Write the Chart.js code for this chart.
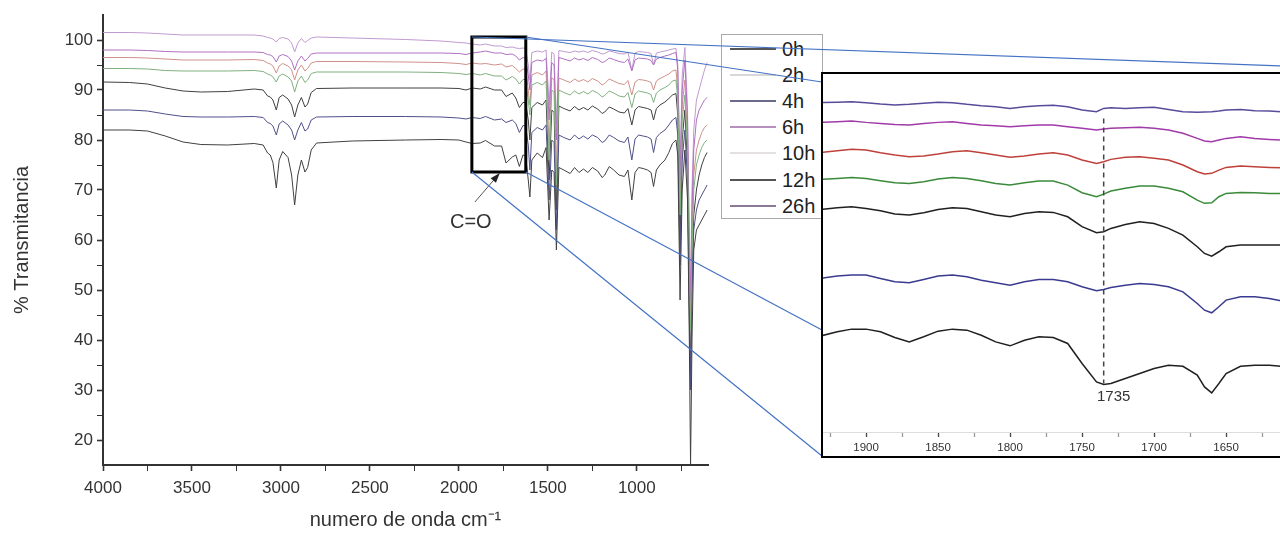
<!DOCTYPE html>
<html>
<head>
<meta charset="utf-8">
<script src="https://cdn.jsdelivr.net/npm/chart.js@4.4.1/dist/chart.umd.min.js"></script>
<style>
  html, body { margin: 0; padding: 0; background: #fff; }
  body { width: 1280px; height: 533px; overflow: hidden; position: relative; font-family: Arial, "Liberation Sans", sans-serif; }
  #main { position: absolute; left: 0; top: 0; }
  #legend { position: absolute; left: 721px; top: 34px; width: 100px; height: 183px; border: 1px solid #aaa; background: #fff; z-index: 1; }
  #legend .row { position: absolute; left: 0; height: 26px; line-height: 26px; font-size: 20px; color: #222; }
  #legend .sw { position: absolute; left: 8px; top: 12px; width: 46px; height: 0; border-top: 2px solid #555; }
  #legend .tx { position: absolute; left: 60px; top: 0; }
  #overlay { position: absolute; left: 0; top: 0; z-index: 2; pointer-events: none; }
  #insetBox { position: absolute; left: 821px; top: 72px; width: 480px; height: 382px; border: 2px solid #000; background: #fff; z-index: 3; }
  #inset { display: block; }
</style>
</head>
<body>
<canvas id="main" width="720" height="533"></canvas>
<div id="legend"></div>
<canvas id="overlay" width="1280" height="533"></canvas>
<div id="insetBox"><canvas id="inset" width="480" height="382"></canvas></div>
<script>
// ---- main spectrum: wavenumber (cm-1) and % transmittance per sample ----
const wavenumber = [4000, 3850, 3750, 3650, 3550, 3450, 3300, 3150, 3100, 3075,
  3060, 3045, 3026, 3010, 2990, 2960, 2940, 2923, 2905, 2885,
  2865, 2850, 2830, 2800, 2600, 2300, 2100, 2000, 1960, 1925,
  1880, 1850, 1800, 1760, 1735, 1700, 1680, 1660, 1640, 1625,
  1610, 1601, 1590, 1560, 1530, 1510, 1493, 1478, 1465, 1452,
  1438, 1410, 1375, 1350, 1325, 1300, 1275, 1250, 1220, 1195,
  1180, 1155, 1130, 1100, 1070, 1050, 1028, 1010, 990, 965,
  940, 920, 906, 890, 870, 842, 820, 800, 780, 770,
  757, 745, 730, 715, 705, 698, 690, 680, 665, 650,
  635, 620, 605];

const t0h = [82, 82, 81.8, 80.8, 79.6, 79.1, 79, 79.3, 79, 77.4,
  77, 75.5, 70.4, 76, 77.7, 76.5, 73, 67, 73, 76,
  73.6, 74.5, 78, 79.4, 79.8, 80, 80.1, 80, 79.6, 79.3,
  79.4, 79.9, 78.8, 78.8, 75.4, 76.6, 77, 74.7, 77, 76.8,
  72, 68.6, 76, 77.4, 76.5, 78.5, 64, 74, 73.5, 58,
  74.5, 74, 73.3, 74.5, 73.5, 74.2, 73.5, 74.5, 73.8, 72.5,
  73, 74.7, 74, 73, 72.7, 74, 68, 73.5, 74.5, 74.3,
  74, 73.5, 70.7, 74, 75, 76, 77.5, 79.3, 80, 77,
  48, 70, 78, 68, 40, 15, 40, 58, 62, 63,
  64, 65, 66];

const t2h = [94.3, 94.3, 94.2, 93.9, 93.8, 93.8, 93.8, 93.9, 93.7, 93.2,
  93, 92.6, 91.6, 92.8, 93.2, 92.6, 91.8, 89.6, 91.8, 92.8,
  91.5, 92, 93.3, 93.6, 93.6, 93.6, 93.5, 93.3, 93.1, 93.3,
  93, 93.3, 92.8, 92.8, 92, 92.7, 92.2, 91.2, 92.1, 92.1,
  88, 85, 91, 91.5, 91, 91.8, 76, 90, 89.5, 71,
  90, 89.5, 89, 89.8, 89.2, 89.7, 89.2, 89.9, 89.4, 88.6,
  88.9, 89.8, 89.4, 88.8, 88.6, 89.5, 86.5, 89.2, 89.8, 89.6,
  89.4, 89.1, 87.5, 89.4, 90, 90.5, 91, 91.8, 92, 88,
  65, 84, 89, 78, 52, 42, 58, 70, 75, 77,
  78.5, 79.5, 80];

const t4h = [86, 86, 85.8, 85.2, 84.7, 84.6, 84.6, 84.7, 84.5, 83.5,
  83.3, 82.8, 81, 83.2, 83.8, 83, 82, 80, 82, 83.5,
  81.8, 82.2, 84, 84.6, 84.7, 84.7, 84.6, 84.4, 84.2, 84.5,
  84.3, 84.7, 84, 84.2, 83.5, 84, 83.3, 81.5, 82.9, 82.8,
  79, 74, 81.5, 82.5, 82, 83, 68, 80, 79.5, 62,
  81, 80.5, 80, 81, 80.2, 80.8, 80.2, 81, 80.5, 79.5,
  79.8, 81, 80.5, 79.8, 79.5, 80.6, 76, 80.2, 81, 80.8,
  80.6, 80.2, 77.5, 80.5, 81.3, 82, 83, 84, 84.5, 81,
  55, 76, 82, 72, 45, 30, 50, 62, 66, 68,
  69, 70, 71];

const t6h = [98, 98, 97.9, 97.7, 97.6, 97.6, 97.6, 97.6, 97.5, 97.1,
  97, 96.7, 95.6, 96.8, 97.1, 96.7, 95.8, 94, 95.8, 96.8,
  95.8, 96.3, 97.2, 97.4, 97.4, 97.4, 97.4, 97.3, 97.1, 97.4,
  97.6, 97.8, 97.4, 97.4, 97.1, 97.2, 96.8, 96, 96.5, 96.3,
  93, 90, 95.5, 96, 95.8, 96.3, 84, 95.5, 95, 80,
  96.5, 96.2, 95.8, 96.4, 96, 96.3, 95.9, 96.5, 96.1, 95.5,
  95.7, 96.4, 96.1, 95.7, 95.5, 96.2, 93.8, 96, 96.4, 96.3,
  96.2, 95.9, 95, 96.2, 96.5, 96.8, 97, 97.3, 97.5, 94,
  72, 90, 96, 84, 58, 48, 66, 78, 84, 86,
  87, 88, 88.5];

const t10h = [96.5, 96.5, 96.4, 96.2, 96, 96, 96, 96.1, 95.9, 95.4,
  95.2, 94.8, 93.4, 94.8, 95.3, 94.8, 94, 92, 94, 95,
  93.8, 94.3, 95.4, 95.7, 95.7, 95.6, 95.5, 95.3, 95.1, 95.4,
  95.2, 95.3, 95, 95.2, 94.6, 94.9, 94.3, 93.6, 94.2, 94.1,
  90, 87, 93, 93.5, 93, 93.8, 79, 92.5, 92, 74,
  92.4, 92, 91.5, 92.2, 91.7, 92.1, 91.6, 92.3, 91.8, 91,
  91.3, 92.2, 91.8, 91.3, 91.1, 91.9, 89, 91.6, 92.1, 92,
  91.8, 91.5, 90, 91.8, 92.3, 92.8, 93.2, 93.8, 94, 90,
  68, 87, 92, 80, 55, 45, 62, 73, 78, 80,
  81.5, 82.5, 83];

const t12h = [91.6, 91.5, 91.2, 90.4, 89.8, 89.6, 89.7, 90.2, 90, 88.8,
  88.6, 88, 86, 88.5, 89, 88.2, 87, 84.6, 87, 88.5,
  86.6, 87.2, 89.5, 90.3, 90.4, 90.4, 90.4, 90.3, 90, 90.4,
  90.2, 90.6, 90, 90, 88.7, 89.4, 88.4, 86.5, 87.5, 87.5,
  84, 80, 86.5, 87.5, 87, 88, 72, 86, 85.5, 66,
  86.8, 86.3, 85.8, 86.7, 86, 86.5, 86, 86.8, 86.2, 85.3,
  85.6, 86.6, 86.2, 85.6, 85.4, 86.3, 83, 86, 86.7, 86.5,
  86.3, 86, 84, 86.3, 87, 87.6, 88.3, 89, 89.3, 85,
  60, 80, 86, 75, 48, 33, 52, 65, 70, 73,
  75, 76.5, 77.5];

const t26h = [101.5, 101.5, 101.4, 101.2, 101, 101, 101, 101, 100.8, 100.5,
  100.4, 100.2, 99.6, 100.3, 100.5, 100.2, 99.4, 97.6, 99.4, 100.3,
  99.5, 99.9, 100.4, 100.6, 100.4, 100.1, 99.8, 99.5, 99.4, 99.2,
  99, 99.2, 98.8, 98.8, 98.5, 98.6, 98.4, 98.3, 98.4, 98.3,
  95, 92, 97.5, 97.8, 97.6, 98, 87, 97.6, 97.2, 83,
  97.9, 97.7, 97.5, 97.8, 97.6, 97.8, 97.5, 97.9, 97.6, 97.2,
  97.3, 97.8, 97.6, 97.3, 97.2, 97.6, 94, 97.4, 97.7, 97.6,
  97.5, 97.3, 95, 97.4, 97.6, 97.8, 98, 98.2, 98.3, 95,
  75, 93, 98.5, 86, 60, 50, 70, 82, 88, 90,
  92, 94, 95.5];

const sampleLabels = ['0h', '2h', '4h', '6h', '10h', '12h', '26h'];
const xTicks = [4000, 3750, 3500, 3250, 3000, 2750, 2500, 2250, 2000, 1750, 1500, 1250, 1000, 750];
const yTicks = [20, 25, 30, 35, 40, 45, 50, 55, 60, 65, 70, 75, 80, 85, 90, 95, 100];

// ---- inset: C=O region, 1930-1610 cm-1 ----
const insetWavenumber = [1932, 1920, 1910, 1900, 1890, 1880, 1870, 1860, 1850, 1840,
  1830, 1820, 1810, 1800, 1790, 1780, 1770, 1760, 1750, 1740,
  1735, 1730, 1720, 1710, 1700, 1690, 1680, 1670, 1665, 1660,
  1655, 1650, 1640, 1630, 1620, 1612];

const inset0h = [79.70, 80.08, 80.32, 80.32, 80.08, 79.58, 79.19, 79.64, 80.14, 80.32,
  80.23, 79.78, 79.19, 78.84, 79.34, 79.64, 79.58, 79.05, 77.27, 75.64,
  75.41, 75.50, 75.94, 76.38, 76.83, 77.12, 77.03, 76.24, 75.20, 74.67,
  75.50, 76.38, 77.03, 77.12, 77.12, 77.03];
const inset2h = [93.59, 93.68, 93.77, 93.68, 93.48, 93.30, 93.24, 93.39, 93.62, 93.77,
  93.68, 93.48, 93.24, 93.09, 93.30, 93.45, 93.45, 93.09, 92.41, 92.06,
  92.29, 92.56, 92.80, 93.00, 93.00, 92.80, 92.50, 91.76, 91.47, 91.52,
  92.06, 92.35, 92.44, 92.41, 92.35, 92.35];
const inset4h = [84.81, 85.02, 85.11, 85.11, 84.81, 84.52, 84.43, 84.72, 85.02, 85.11,
  84.96, 84.66, 84.43, 84.22, 84.52, 84.72, 84.72, 84.52, 84.07, 83.72,
  83.84, 84.01, 84.22, 84.37, 84.28, 84.07, 83.63, 82.59, 82.00, 81.77,
  82.30, 82.89, 83.19, 83.19, 83.04, 82.83];
const inset6h = [98.65, 98.71, 98.77, 98.65, 98.56, 98.47, 98.41, 98.56, 98.65, 98.71,
  98.56, 98.41, 98.35, 98.27, 98.35, 98.41, 98.41, 98.27, 98.12, 97.97,
  98.06, 98.12, 98.18, 98.21, 98.12, 97.97, 97.69, 97.23, 97.00, 96.94,
  97.08, 97.23, 97.38, 97.23, 97.14, 97.08];
const inset10h = [95.96, 96.14, 96.26, 96.20, 95.96, 95.75, 95.60, 95.66, 95.84, 96.05,
  96.14, 95.96, 95.75, 95.55, 95.66, 95.84, 95.96, 95.75, 95.31, 95.01,
  95.16, 95.37, 95.55, 95.60, 95.46, 95.31, 94.87, 94.27, 94.07, 94.13,
  94.42, 94.66, 94.78, 94.72, 94.66, 94.63];
const inset12h = [90.93, 91.08, 91.17, 91.02, 90.81, 90.52, 90.43, 90.64, 90.93, 91.08,
  91.02, 90.73, 90.43, 90.28, 90.58, 90.73, 90.67, 90.28, 89.40, 88.86,
  88.95, 89.25, 89.60, 89.84, 89.69, 89.25, 88.66, 87.62, 87.03, 86.79,
  87.18, 87.62, 87.77, 87.77, 87.77, 87.77];
const inset26h = [100.40, 100.43, 100.48, 100.40, 100.28, 100.19, 100.25, 100.34, 100.43, 100.40,
  100.25, 100.13, 100.04, 99.89, 100.04, 100.13, 100.16, 100.04, 99.74, 99.60,
  99.89, 99.95, 99.89, 99.95, 99.98, 99.80, 99.60, 99.54, 99.57, 99.60,
  99.66, 99.74, 99.80, 99.69, 99.66, 99.60];
const insetTicks = [1925, 1900, 1875, 1850, 1825, 1800, 1775, 1750, 1725, 1700, 1675, 1650, 1625];

// styles
const mainColors = ['#404040', '#80b080', '#505088', '#b070c0', '#d0908a', '#404040', '#c09ad0'];
const insetColors = ['#202020', '#3a8a3a', '#3a3a90', '#a03aa8', '#c0403a', '#202020', '#5a4a9a'];
const legendSwatch = ['#555', '#d8d8d8', '#6a6a8a', '#b890c0', '#e4e0e0', '#555', '#8a7a98'];
const font = 'Arial, "Liberation Sans", sans-serif';

const mainSeries = [t0h, t2h, t4h, t6h, t10h, t12h, t26h];
const insetSeries = [inset0h, inset2h, inset4h, inset6h, inset10h, inset12h, inset26h];
const toPoints = (xs, ys) => xs.map((x, i) => ({ x: x, y: ys[i] }));

// zoom box (data units of main chart)
const box = { from: 1927, to: 1624, top: 100.6, bottom: 73.6 };

const mainMarks = {
  id: 'mainMarks',
  afterDatasetsDraw(chart) {
    const { ctx, scales: { x, y } } = chart;
    ctx.save();
    ctx.lineWidth = 3;
    ctx.strokeStyle = '#000';
    const x1 = x.getPixelForValue(box.from), x2 = x.getPixelForValue(box.to);
    const y1 = y.getPixelForValue(box.top), y2 = y.getPixelForValue(box.bottom);
    ctx.strokeRect(x1, y1, x2 - x1, y2 - y1);

    // arrow to the C=O band
    const ax = x.getPixelForValue(1910), ay = y.getPixelForValue(67.6);
    const bx = x.getPixelForValue(1770), by = y.getPixelForValue(73.4);
    ctx.lineWidth = 1;
    ctx.strokeStyle = '#555';
    ctx.beginPath(); ctx.moveTo(ax, ay); ctx.lineTo(bx, by); ctx.stroke();
    const ang = Math.atan2(by - ay, bx - ax);
    ctx.fillStyle = '#222';
    ctx.beginPath();
    ctx.moveTo(bx, by);
    ctx.lineTo(bx - 10 * Math.cos(ang) + 3.5 * Math.sin(ang), by - 10 * Math.sin(ang) - 3.5 * Math.cos(ang));
    ctx.lineTo(bx - 10 * Math.cos(ang) - 3.5 * Math.sin(ang), by - 10 * Math.sin(ang) + 3.5 * Math.cos(ang));
    ctx.closePath(); ctx.fill();

    ctx.fillStyle = '#333';
    ctx.font = '20px ' + font;
    ctx.textAlign = 'center';
    ctx.textBaseline = 'middle';
    ctx.fillText('C=O', x.getPixelForValue(1933), y.getPixelForValue(63.6));
    ctx.restore();
  }
};

const mainChart = new Chart(document.getElementById('main'), {
  type: 'line',
  data: {
    datasets: sampleLabels.map((l, i) => ({
      label: l,
      data: toPoints(wavenumber, mainSeries[i]),
      borderColor: mainColors[i],
      borderWidth: 1,
      pointRadius: 0,
      tension: 0
    }))
  },
  options: {
    responsive: false,
    animation: false,
    events: [],
    layout: { padding: { top: 15, right: 12, left: 0, bottom: 0 } },
    plugins: { legend: { display: false }, tooltip: { enabled: false } },
    scales: {
      x: {
        type: 'linear', reverse: true, min: 600, max: 4000,
        afterBuildTicks: s => { s.ticks = xTicks.map(v => ({ value: v })); },
        afterFit: s => { s.height = 68; },
        border: { display: true, color: '#333', width: 2 },
        grid: { drawOnChartArea: false, drawTicks: true, tickLength: 6, tickColor: '#333',
          tickWidth: c => (c.tick && c.tick.value % 500 === 0) ? 1.6 : 1 },
        ticks: { autoSkip: false, maxRotation: 0, padding: 7, color: '#333',
          font: { family: font, size: 17 },
          callback: v => v % 500 === 0 ? String(v) : '' },
        title: { display: true, text: 'numero de onda cm⁻¹', color: '#333',
          font: { family: font, size: 20 }, padding: { top: 0, bottom: 1 } }
      },
      y: {
        min: 15, max: 105,
        afterBuildTicks: s => { s.ticks = yTicks.map(v => ({ value: v })); },
        afterFit: s => { s.width = 103; },
        border: { display: true, color: '#333', width: 2 },
        grid: { drawOnChartArea: false, drawTicks: true, tickLength: 6, tickColor: '#333',
          tickWidth: c => (c.tick && c.tick.value % 10 === 0) ? 1.6 : 1 },
        ticks: { autoSkip: false, padding: 4, color: '#333',
          font: { family: font, size: 17 },
          callback: v => v % 10 === 0 ? String(v) : '' },
        title: { display: true, text: '% Transmitancia', color: '#333',
          font: { family: font, size: 20 }, padding: { top: 10, bottom: 0 } }
      }
    }
  },
  plugins: [mainMarks]
});

// legend
const legend = document.getElementById('legend');
sampleLabels.forEach((l, i) => {
  const row = document.createElement('div');
  row.className = 'row';
  row.style.top = (1 + i * 26.1) + 'px';
  row.innerHTML = '<span class="sw" style="border-top-color:' + legendSwatch[i] + '"></span><span class="tx">' + l + '</span>';
  legend.appendChild(row);
});

// inset chart
const insetMarks = {
  id: 'insetMarks',
  afterDatasetsDraw(chart) {
    const { ctx, scales: { x, y } } = chart;
    const px = x.getPixelForValue(1735);
    ctx.save();
    ctx.strokeStyle = '#444';
    ctx.lineWidth = 1.5;
    ctx.setLineDash([5, 4]);
    ctx.beginPath();
    ctx.moveTo(px, y.getPixelForValue(99.0));
    ctx.lineTo(px, y.getPixelForValue(75.5));
    ctx.stroke();
    ctx.setLineDash([]);
    ctx.fillStyle = '#333';
    ctx.font = '15px ' + font;
    ctx.textAlign = 'center';
    ctx.textBaseline = 'middle';
    ctx.fillText('1735', px + 10, y.getPixelForValue(74.3));
    ctx.restore();
  }
};

new Chart(document.getElementById('inset'), {
  type: 'line',
  data: {
    datasets: sampleLabels.map((l, i) => ({
      label: l,
      data: toPoints(insetWavenumber, insetSeries[i]),
      borderColor: insetColors[i],
      borderWidth: 1.5,
      pointRadius: 0,
      tension: 0
    }))
  },
  options: {
    responsive: false,
    animation: false,
    events: [],
    layout: { padding: { top: 1, right: 0, left: 0, bottom: 0 } },
    plugins: { legend: { display: false }, tooltip: { enabled: false } },
    scales: {
      x: {
        type: 'linear', reverse: true, min: 1596.6, max: 1929.9,
        afterBuildTicks: s => { s.ticks = insetTicks.map(v => ({ value: v })); },
        afterFit: s => { s.height = 24; },
        border: { display: true, color: '#ddd', width: 1 },
        grid: { drawOnChartArea: false, drawTicks: true, tickLength: 5,
          tickColor: c => (c.tick && c.tick.value % 50 === 0) ? '#444' : '#999', tickWidth: 1.3 },
        ticks: { autoSkip: false, maxRotation: 0, padding: 4, color: '#333',
          font: { family: font, size: 11.5 },
          callback: v => v % 50 === 0 ? String(v) : '' }
      },
      y: { display: false, min: 71.2, max: 102.85 }
    }
  },
  plugins: [insetMarks]
});

// blue connector lines from the zoom box to the inset
const ov = document.getElementById('overlay').getContext('2d');
const sx = mainChart.scales.x, sy = mainChart.scales.y;
const corner = (w, t) => [sx.getPixelForValue(w), sy.getPixelForValue(t)];
const links = [
  [corner(box.from, box.top), [1282, 66]],
  [corner(box.to, box.top), [822, 82]],
  [corner(box.to, box.bottom), [822, 330]],
  [corner(box.from, box.bottom), [822, 456]]
];
ov.strokeStyle = '#4472c4';
ov.lineWidth = 1.2;
links.forEach(([a, b]) => {
  ov.beginPath(); ov.moveTo(a[0], a[1]); ov.lineTo(b[0], b[1]); ov.stroke();
});
</script>
</body>
</html>
